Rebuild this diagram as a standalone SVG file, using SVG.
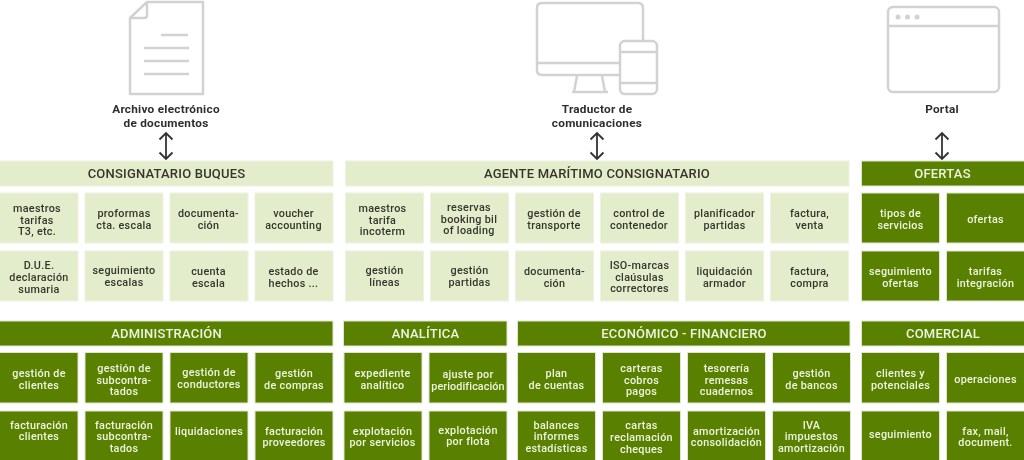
<svg xmlns="http://www.w3.org/2000/svg" width="1024" height="460" viewBox="0 0 1024 460">
<style>
text{font-family:"Roboto","Open Sans","Liberation Sans",sans-serif;text-anchor:middle;font-size:10.8px;font-weight:500;letter-spacing:.3px}
.l rect,rect.l{fill:#e4edcb;stroke:#eef2e2;stroke-width:1}
.d rect,rect.d{fill:#5a8000;stroke:#dfe6d0;stroke-width:1}
.l text{fill:#35352d}
.d text{fill:#eef4e2}
.h text{font-size:13px;letter-spacing:.2px}
.t text{fill:#2e2e2e;font-weight:700;font-size:11.800px;letter-spacing:.25px}
.i{fill:none;stroke:#d2d2d2;stroke-width:2.5;stroke-linejoin:round}
.a{fill:none;stroke:#333;stroke-width:1.8}
</style>
<defs><filter id="s" x="-2%" y="-2%" width="104%" height="104%"><feGaussianBlur stdDeviation="0.35"/></filter>
<path id="ar" class="a" d="M0 1V27M-6.500 7.500L0 1L6.500 7.500M-6.500 20.500L0 27L6.500 20.500"/></defs>
<rect width="1024" height="460" fill="#fff"/>
<g filter="url(#s)">
<g id="icon-documento"><path class="i" d="M147 2H203V94H130V18ZM147 2V15Q147 18 144 18H130M161 35H188M144 48H189M144 61H189M144 74H189"/></g>
<g id="icon-dispositivos"><path class="i" d="M619 75H542Q537 75 537 70V8Q537 3 542 3H638Q643 3 643 8V41M537 63H619M577 76L574 92M602 76L605 92M572 92H608"/><rect class="i" x="620" y="41" width="37" height="53" rx="5"/><path class="i" d="M620 52H657M620 83H657"/></g>
<g id="icon-portal"><rect class="i" x="888" y="7" width="111" height="85" rx="5"/><path class="i" d="M888 26H999"/><g fill="#d2d2d2"><circle cx="898" cy="17" r="2.500"/><circle cx="907.500" cy="17" r="2.500"/><circle cx="917" cy="17" r="2.500"/></g></g>
<g class="t" id="archivo"><text x="166" y="113">Archivo electrónico</text><text x="166" y="126.500">de documentos</text></g>
<g class="t" id="traductor"><text x="597" y="113">Traductor de</text><text x="597" y="127">comunicaciones</text></g>
<g class="t" id="portal"><text x="942" y="113">Portal</text></g>
<g id="conectores"><use href="#ar" x="166" y="132"/><use href="#ar" x="597" y="132"/><use href="#ar" x="942" y="132"/></g>

<g class="l h" id="consignatario"><rect x="-1" y="161" width="334" height="25"/><text x="166.500" y="178">CONSIGNATARIO BUQUES</text></g>
<g class="l h" id="agente"><rect x="345.500" y="161" width="503.500" height="25"/><text x="597" y="178">AGENTE MARÍTIMO CONSIGNATARIO</text></g>
<g class="d h" id="ofertas"><rect x="861.500" y="161" width="163" height="25"/><text x="942.500" y="178">OFERTAS</text></g>

<g class="l" id="n1"><rect x="-1" y="193" width="79" height="50"/><text x="37" y="212">maestros</text><text x="37" y="223.500">tarifas</text><text x="37" y="235">T3, etc.</text></g>
<g class="l" id="n2"><rect x="85" y="193" width="78" height="50"/><text x="124" y="217">proformas</text><text x="124" y="228.500">cta. escala</text></g>
<g class="l" id="n3"><rect x="170" y="193" width="78" height="50"/><text x="208.500" y="217">documenta-</text><text x="208.500" y="228.500">ción</text></g>
<g class="l" id="n4"><rect x="255" y="193" width="78" height="50"/><text x="293.500" y="217">voucher</text><text x="293.500" y="228.500">accounting</text></g>
<g class="l" id="n5"><rect x="-1" y="251" width="79" height="50"/><text x="39" y="269">D.U.E.</text><text x="39" y="280.500">declaración</text><text x="39" y="292.500">sumaria</text></g>
<g class="l" id="n6"><rect x="85" y="251" width="78" height="50"/><text x="124" y="274">seguimiento</text><text x="124" y="285.500">escalas</text></g>
<g class="l" id="n7"><rect x="170" y="251" width="78" height="50"/><text x="208.500" y="275">cuenta</text><text x="208.500" y="287">escala</text></g>
<g class="l" id="n8"><rect x="255" y="251" width="78" height="50"/><text x="293.500" y="275">estado de</text><text x="293.500" y="287">hechos ...</text></g>

<g class="l" id="n9"><rect x="345.500" y="193" width="78" height="50"/><text x="382.500" y="212">maestros</text><text x="382.500" y="223.500">tarifa</text><text x="382.500" y="235">incoterm</text></g>
<g class="l" id="n10"><rect x="430.500" y="193" width="78" height="50"/><text x="469" y="211">reservas</text><text x="469" y="222.500">booking bil</text><text x="469" y="234">of loading</text></g>
<g class="l" id="n11"><rect x="515.500" y="193" width="78" height="50"/><text x="554" y="217">gestión de</text><text x="554" y="228.500">transporte</text></g>
<g class="l" id="n12"><rect x="600.500" y="193" width="78" height="50"/><text x="639" y="217">control de</text><text x="639" y="228.500">contenedor</text></g>
<g class="l" id="n13"><rect x="685.500" y="193" width="78" height="50"/><text x="724.500" y="217">planificador</text><text x="724.500" y="228.500">partidas</text></g>
<g class="l" id="n14"><rect x="770.500" y="193" width="78" height="50"/><text x="809.500" y="217">factura,</text><text x="809.500" y="228.500">venta</text></g>
<g class="l" id="n15"><rect x="345.500" y="251" width="78" height="50"/><text x="384.500" y="274">gestión</text><text x="384.500" y="285.500">líneas</text></g>
<g class="l" id="n16"><rect x="430.500" y="251" width="78" height="50"/><text x="469.500" y="274">gestión</text><text x="469.500" y="285.500">partidas</text></g>
<g class="l" id="n17"><rect x="515.500" y="251" width="78" height="50"/><text x="554.500" y="275">documenta-</text><text x="554.500" y="287">ción</text></g>
<g class="l" id="n18"><rect x="600.500" y="251" width="78" height="50"/><text x="639.500" y="269">ISO-marcas</text><text x="639.500" y="280.500">claúsulas</text><text x="639.500" y="292">correctores</text></g>
<g class="l" id="n19"><rect x="685.500" y="251" width="78" height="50"/><text x="724.500" y="275">liquidación</text><text x="724.500" y="286.500">armador</text></g>
<g class="l" id="n20"><rect x="770.500" y="251" width="78" height="50"/><text x="809.500" y="275">factura,</text><text x="809.500" y="286.500">compra</text></g>

<g class="d" id="n21"><rect x="861.500" y="193" width="78" height="50"/><text x="900.500" y="217">tipos de</text><text x="900.500" y="228.500">servicios</text></g>
<g class="d" id="n22"><rect x="946.500" y="193" width="78" height="50"/><text x="985.500" y="223">ofertas</text></g>
<g class="d" id="n23"><rect x="861.500" y="251" width="78" height="50"/><text x="900.500" y="275">seguimiento</text><text x="900.500" y="286.500">ofertas</text></g>
<g class="d" id="n24"><rect x="946.500" y="251" width="78" height="50"/><text x="985.500" y="275">tarifas</text><text x="985.500" y="286.500">integración</text></g>

<g class="d h" id="administracion"><rect x="-1" y="321" width="334" height="25"/><text x="166.500" y="338">ADMINISTRACIÓN</text></g>
<g class="d h" id="analitica"><rect x="343.500" y="321" width="163.500" height="25"/><text x="425.500" y="338">ANALÍTICA</text></g>
<g class="d h" id="economico"><rect x="517.500" y="321" width="332.500" height="25"/><text x="684" y="338">ECONÓMICO - FINANCIERO</text></g>
<g class="d h" id="comercial"><rect x="861.500" y="321" width="163" height="25"/><text x="943" y="338">COMERCIAL</text></g>

<g class="d" id="m1"><rect x="-1" y="352.500" width="79" height="50.500"/><text x="39" y="377">gestión de</text><text x="39" y="388.500">clientes</text></g>
<g class="d" id="m2"><rect x="85" y="352.500" width="78" height="50.500"/><text x="124" y="372">gestión de</text><text x="124" y="383.500">subcontra-</text><text x="124" y="394.500">tados</text></g>
<g class="d" id="m3"><rect x="170" y="352.500" width="78" height="50.500"/><text x="209" y="376">gestión de</text><text x="209" y="387.500">conductores</text></g>
<g class="d" id="m4"><rect x="255" y="352.500" width="78" height="50.500"/><text x="294" y="377">gestión</text><text x="294" y="388.500">de compras</text></g>
<g class="d" id="m5"><rect x="-1" y="411" width="79" height="52"/><text x="39" y="428.500">facturación</text><text x="39" y="440">clientes</text></g>
<g class="d" id="m6"><rect x="85" y="411" width="78" height="52"/><text x="124" y="428.500">facturación</text><text x="124" y="440">subcontra-</text><text x="124" y="452">tados</text></g>
<g class="d" id="m7"><rect x="170" y="411" width="78" height="52"/><text x="209" y="435">liquidaciones</text></g>
<g class="d" id="m8"><rect x="255" y="411" width="78" height="52"/><text x="294" y="434.500">facturación</text><text x="294" y="446">proveedores</text></g>

<g class="d" id="m9"><rect x="344" y="352.500" width="78" height="50.500"/><text x="382.500" y="377">expediente</text><text x="382.500" y="388.500">analítico</text></g>
<g class="d" id="m10"><rect x="429" y="352.500" width="78" height="50.500"/><text x="468" y="378">ajuste por</text><text x="468" y="389.500" style="letter-spacing:.1px">periodificación</text></g>
<g class="d" id="m11"><rect x="344" y="411" width="78" height="52"/><text x="382.500" y="434.500">explotación</text><text x="382.500" y="446">por servicios</text></g>
<g class="d" id="m12"><rect x="429" y="411" width="78" height="52"/><text x="468" y="433.500">explotación</text><text x="468" y="445">por flota</text></g>

<g class="d" id="m13"><rect x="517.500" y="352.500" width="78" height="50.500"/><text x="556.500" y="377">plan</text><text x="556.500" y="388.500">de cuentas</text></g>
<g class="d" id="m14"><rect x="602.500" y="352.500" width="78" height="50.500"/><text x="641.500" y="372">carteras</text><text x="641.500" y="383.500">cobros</text><text x="641.500" y="394.500">pagos</text></g>
<g class="d" id="m15"><rect x="687.500" y="352.500" width="78" height="50.500"/><text x="726.500" y="372">tesorería</text><text x="726.500" y="383.500">remesas</text><text x="726.500" y="394.500">cuadernos</text></g>
<g class="d" id="m16"><rect x="772.500" y="352.500" width="78" height="50.500"/><text x="811.500" y="377">gestión</text><text x="811.500" y="389">de bancos</text></g>
<g class="d" id="m17"><rect x="517.500" y="411" width="78" height="52"/><text x="556.500" y="428.500">balances</text><text x="556.500" y="440">informes</text><text x="556.500" y="452">estadísticas</text></g>
<g class="d" id="m18"><rect x="602.500" y="411" width="78" height="52"/><text x="641.500" y="429">cartas</text><text x="641.500" y="441">reclamación</text><text x="641.500" y="452.500">cheques</text></g>
<g class="d" id="m19"><rect x="687.500" y="411" width="78" height="52"/><text x="726.500" y="434.500">amortización</text><text x="726.500" y="446">consolidación</text></g>
<g class="d" id="m20"><rect x="772.500" y="411" width="78" height="52"/><text x="811.500" y="428.500">IVA</text><text x="811.500" y="440">impuestos</text><text x="811.500" y="452">amortización</text></g>

<g class="d" id="m21"><rect x="861.500" y="352.500" width="78" height="50.500"/><text x="900.500" y="377">clientes y</text><text x="900.500" y="388.500">potenciales</text></g>
<g class="d" id="m22"><rect x="946.500" y="352.500" width="78" height="50.500"/><text x="985.500" y="383">operaciones</text></g>
<g class="d" id="m23"><rect x="861.500" y="411" width="78" height="52"/><text x="900.500" y="438">seguimiento</text></g>
<g class="d" id="m24"><rect x="946.500" y="411" width="78" height="52"/><text x="985.500" y="434.500">fax, mail,</text><text x="985.500" y="446">document.</text></g>
</g>
</svg>
